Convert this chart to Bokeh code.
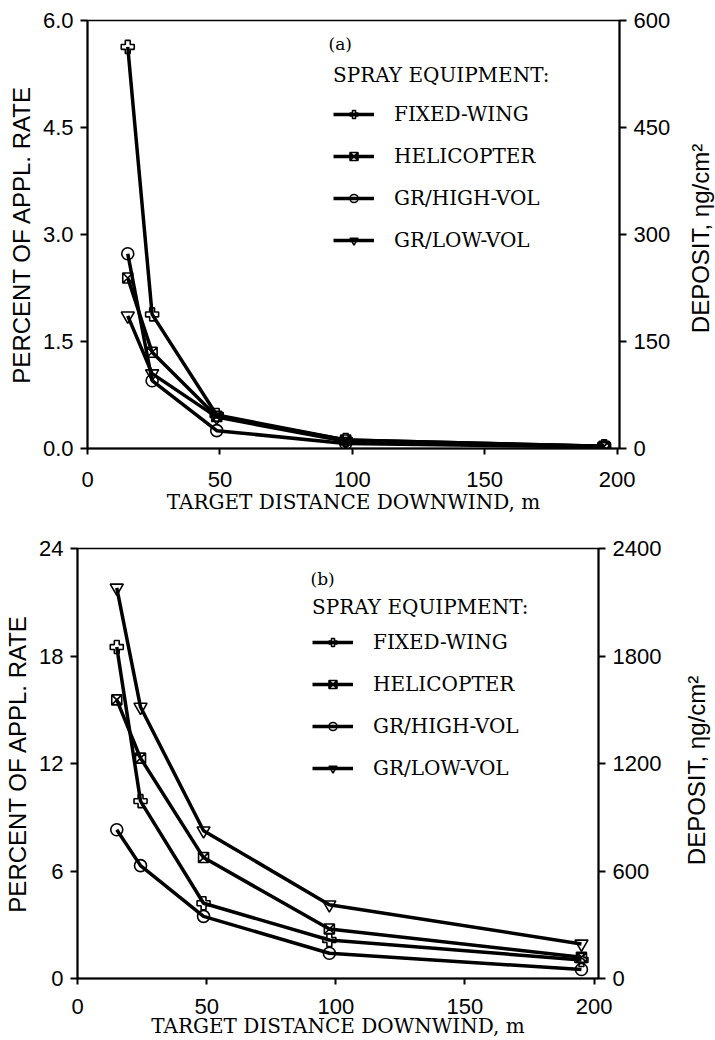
import math
from bokeh.plotting import figure
from bokeh.models import (Range1d, LinearAxis, FixedTicker, Legend, LegendItem,
                          Label, ColumnDataSource, NumeralTickFormatter)
from bokeh.embed import file_html
from bokeh.resources import INLINE

# ---------------- data ----------------
distance_m = [15.2, 24.4, 48.8, 97.5, 195.1]
series_names = ["FIXED-WING", "HELICOPTER", "GR/HIGH-VOL", "GR/LOW-VOL"]

# panel (a): percent of application rate
a_fixed_wing = [5.63, 1.88, 0.47, 0.12, 0.03]
a_helicopter = [2.39, 1.35, 0.45, 0.12, 0.03]
a_gr_high_vol = [2.73, 0.95, 0.25, 0.07, 0.02]
a_gr_low_vol = [1.86, 1.05, 0.44, 0.10, 0.03]

# panel (b): percent of application rate
b_fixed_wing = [18.5, 9.9, 4.2, 2.15, 1.03]
b_helicopter = [15.55, 12.3, 6.75, 2.76, 1.18]
b_gr_high_vol = [8.3, 6.3, 3.47, 1.41, 0.50]
b_gr_low_vol = [21.8, 15.15, 8.25, 4.12, 1.93]

a_left_ticks = [0, 1.5, 3.0, 4.5, 6.0]
a_right_ticks = [0, 150, 300, 450, 600]
b_left_ticks = [0, 6, 12, 18, 24]
b_right_ticks = [0, 600, 1200, 1800, 2400]
x_ticks = [0, 50, 100, 150, 200]

markers = ["plus", "square_x", "circle", "inverted_triangle"]
marker_sizes = [13, 10, 12, 13]

SANS = "Liberation Sans"
SERIF = "DejaVu Serif"
RIGHT_TITLE = "DEPOSIT, \u03b7g/cm\u00b2"


def style_axis(ax, size="22px"):
    ax.axis_line_width = 2
    ax.axis_line_color = "black"
    ax.major_tick_line_width = 2
    ax.major_tick_line_color = "black"
    ax.major_tick_out = 7
    ax.major_tick_in = 0
    ax.minor_tick_line_color = None
    ax.major_label_text_font = SANS
    ax.major_label_text_font_size = size
    ax.major_label_text_color = "black"
    ax.axis_label_text_font_style = "normal"
    ax.axis_label_text_color = "black"


def make_panel(series, left_ticks, right_ticks, ymax, dep_max, tag,
               width, height, bl, br, bt, bb, xmax,
               xl_standoff, xt_standoff, yl_standoff,
               leg_x, leg_y, leg_title_standoff, tag_x, tag_y,
               rt_x, rt_y, left_fmt=None):
    p = figure(width=width, height=height,
               x_range=Range1d(0, xmax), y_range=Range1d(0, ymax),
               output_backend="svg", toolbar_location=None,
               min_border_left=bl, min_border_right=br,
               min_border_top=bt, min_border_bottom=bb)
    p.xgrid.visible = False
    p.ygrid.visible = False
    p.outline_line_color = "black"
    p.outline_line_width = 1.5
    p.background_fill_color = "white"
    p.border_fill_color = "white"

    # x axis
    xa = p.xaxis[0]
    style_axis(xa)
    xa.ticker = FixedTicker(ticks=x_ticks)
    xa.major_tick_out = 6
    xa.major_label_standoff = xl_standoff
    xa.axis_label = "TARGET DISTANCE DOWNWIND, m"
    xa.axis_label_text_font = SERIF
    xa.axis_label_text_font_size = "20px"
    xa.axis_label_standoff = xt_standoff

    # left axis
    ya = p.yaxis[0]
    style_axis(ya)
    ya.ticker = FixedTicker(ticks=left_ticks)
    if left_fmt:
        ya.formatter = NumeralTickFormatter(format=left_fmt)
    ya.major_label_standoff = 7
    ya.axis_label = "PERCENT OF APPL. RATE"
    ya.axis_label_text_font = SANS
    ya.axis_label_text_font_size = "24px"
    ya.axis_label_standoff = yl_standoff

    # right axis (deposit scale)
    p.extra_y_ranges = {"dep": Range1d(0, dep_max)}
    ra = LinearAxis(y_range_name="dep", ticker=FixedTicker(ticks=right_ticks))
    style_axis(ra)
    ra.major_label_standoff = 7
    p.add_layout(ra, "right")

    # right-axis title, reading bottom-to-top, in the right side panel
    p.add_layout(Label(x=rt_x, y=rt_y, x_units="screen", y_units="screen",
                       text=RIGHT_TITLE, angle=math.pi / 2,
                       text_font=SANS, text_font_size="24px",
                       text_align="center", text_baseline="middle",
                       text_color="black"), "right")

    items = []
    for name, ys, mk, sz in zip(series_names, series, markers, marker_sizes):
        src = ColumnDataSource(dict(x=distance_m, y=ys))
        lr = p.line("x", "y", source=src, line_width=3.5, line_color="black")
        sr = p.scatter("x", "y", source=src, marker=mk, size=sz,
                       line_color="black", line_width=1.6, fill_color=None)
        items.append(LegendItem(label=name, renderers=[lr, sr]))

    leg = Legend(items=items, location=(leg_x, leg_y), title="SPRAY EQUIPMENT:",
                 padding=0, margin=0, border_line_color=None,
                 background_fill_alpha=0,
                 label_text_font=SERIF, label_text_font_size="20px",
                 label_text_color="black",
                 title_text_font=SERIF, title_text_font_size="20px",
                 title_text_color="black",
                 title_text_font_style="normal", title_standoff=leg_title_standoff,
                 glyph_width=41, glyph_height=20, label_height=20,
                 label_standoff=20, spacing=18)
    p.add_layout(leg)

    p.add_layout(Label(x=tag_x, y=tag_y, x_units="screen", y_units="screen",
                       text=tag, text_font=SERIF, text_font_size="17px",
                       text_baseline="middle", text_color="black"))
    return p


p1 = make_panel([a_fixed_wing, a_helicopter, a_gr_high_vol, a_gr_low_vol],
                a_left_ticks, a_right_ticks, 6.0, 600, "(a)",
                width=715, height=520, bl=87, br=96, bt=20, bb=72, xmax=200.9,
                xl_standoff=17, xt_standoff=0, yl_standoff=5,
                leg_x=246, leg_y=196, leg_title_standoff=15,
                tag_x=241, tag_y=405, rt_x=27, rt_y=210, left_fmt="0.0")

p2 = make_panel([b_fixed_wing, b_helicopter, b_gr_high_vol, b_gr_low_vol],
                b_left_ticks, b_right_ticks, 24, 2400, "(b)",
                width=715, height=520, bl=77, br=117, bt=28, bb=62, xmax=201.7,
                xl_standoff=14, xt_standoff=-3, yl_standoff=5,
                leg_x=235, leg_y=198, leg_title_standoff=11,
                tag_x=233, tag_y=400, rt_x=32, rt_y=208)

open("out.html", "w").write(file_html([p1, p2], INLINE))
